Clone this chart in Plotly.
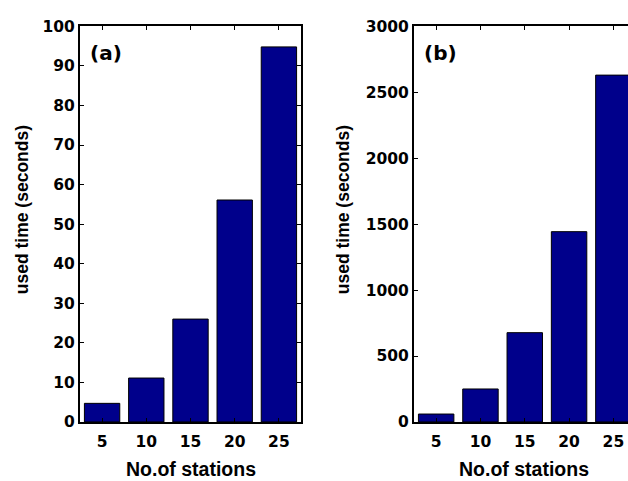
import plotly.graph_objects as go

stations = ["5", "10", "15", "20", "25"]
time_a = [4.7, 11.1, 26.0, 56.1, 94.8]
time_b = [60, 250, 677, 1443, 2630]

W, H = 628, 481
BAR = "#00008B"
LIB = dict(family="Liberation Sans, Arial, sans-serif", color="black", weight="bold")
DJV = dict(family="DejaVu Sans, sans-serif", color="black", weight="bold")

fig = go.Figure()
fig.add_trace(go.Bar(x=stations, y=time_a, marker=dict(color=BAR, line=dict(color="black", width=1)),
                     xaxis="x", yaxis="y", showlegend=False))
fig.add_trace(go.Bar(x=stations, y=time_b, marker=dict(color=BAR, line=dict(color="black", width=1)),
                     xaxis="x2", yaxis="y2", showlegend=False))

ydom = [1 - 429 / H, 1 - 18 / H]
common_x = dict(type="category", showline=True, linecolor="black", linewidth=2, ticks="inside",
                ticklen=4, tickcolor="black", tickwidth=1, showgrid=False, zeroline=False,
                tickfont=dict(size=15.5, **DJV), ticklabelstandoff=4)
common_y = dict(showline=True, linecolor="black", linewidth=2, ticks="inside", ticklen=4,
                tickcolor="black", tickwidth=1, showgrid=False, zeroline=False,
                tickfont=dict(size=15.5, **DJV))

fig.update_layout(
    width=W, height=H, margin=dict(l=0, r=0, t=0, b=0),
    paper_bgcolor="white", plot_bgcolor="white", bargap=0.2,
    xaxis=dict(domain=[80 / W, 301 / W], range=[-0.5, 4.5], anchor="y", mirror="ticks", **common_x),
    yaxis=dict(domain=ydom, range=[0, 100], tickvals=list(range(0, 101, 10)), anchor="x",
               mirror="ticks", **common_y),
    xaxis2=dict(domain=[414 / W, 1.0], range=[-0.5, 4.33], anchor="y2", mirror="ticks", **common_x),
    yaxis2=dict(domain=ydom, range=[0, 3000], tickvals=list(range(0, 3001, 500)), anchor="x2",
                mirror=False, **common_y),
)

ann = []
ann.append(dict(text="(a)", x=88 / W, y=1 - 46 / H, xref="paper", yref="paper", xanchor="left",
                yanchor="middle", showarrow=False, font=dict(size=20, **DJV)))
ann.append(dict(text="(b)", x=422 / W, y=1 - 46 / H, xref="paper", yref="paper", xanchor="left",
                yanchor="middle", showarrow=False, font=dict(size=20, **DJV)))
for cx, label in [(191, "No.of stations"), (524, "No.of stations")]:
    ann.append(dict(text=label, x=cx / W, y=1 - 478 / H, xref="paper", yref="paper",
                    xanchor="center", yanchor="middle", showarrow=False, font=dict(size=19.5, **LIB)))
for cx in [22, 343]:
    ann.append(dict(text="used time (seconds)", x=cx / W, y=1 - 209 / H, xref="paper", yref="paper",
                    xanchor="center", yanchor="middle", textangle=-90, showarrow=False,
                    font=dict(size=17.5, **LIB)))
fig.update_layout(annotations=ann)

fig.write_html("out.html")
